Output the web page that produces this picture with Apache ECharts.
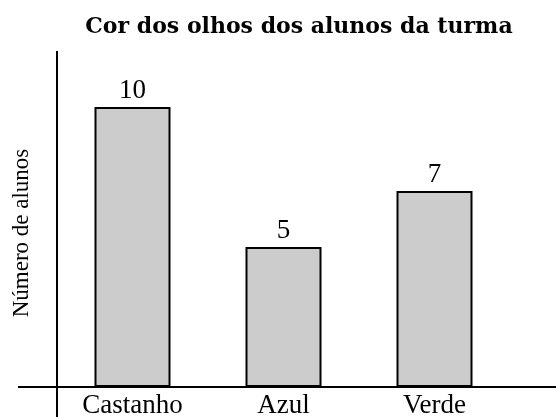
<!DOCTYPE html>
<html lang="pt">
<head>
	<meta charset="UTF-8">
	<title>Cor dos olhos</title>
	<style>
		html, body { margin: 0; padding: 0; background: #fff; }
		#chart { width: 556px; height: 417px; }
	</style>
</head>
<body>
	<div id="chart"></div>
	<script src="https://cdn.jsdelivr.net/npm/echarts@6/dist/echarts.min.js"></script>
	<script>
		var categorias = ['Castanho', 'Azul', 'Verde'];
		var alunos = [10, 5, 7];

		var fonte = 'Liberation Serif';
		var chart = echarts.init(document.getElementById('chart'));

		var option = {
			animation: false,
			title: {
				text: 'Cor dos olhos dos alunos da turma',
				left: 294,
				top: 11,
				textAlign: 'center',
				textStyle: { fontFamily: 'DejaVu Serif', fontWeight: 'bold', fontSize: 22, color: '#000' }
			},
			grid: { left: 57, right: 46, top: 51, bottom: 30, outerBoundsMode: 'none', containLabel: false },
			xAxis: {
				type: 'category',
				data: categorias,
				axisTick: { show: false },
				axisLine: { show: false },
				axisLabel: { fontFamily: fonte, fontSize: 27, color: '#000', margin: 5 }
			},
			yAxis: {
				type: 'value',
				min: 0,
				max: 12,
				name: 'Número de alunos',
				nameLocation: 'middle',
				nameGap: 24,
				nameTextStyle: { fontFamily: fonte, fontSize: 23, color: '#000', padding: [0, 28, 0, 0] },
				axisLine: { show: false },
				axisTick: { show: false },
				axisLabel: { show: false },
				splitLine: { show: false }
			},
			// eixos desenhados de ponta a ponta, como no original
			graphic: [
				{ type: 'line', shape: { x1: 18, y1: 387, x2: 556, y2: 387 }, style: { stroke: '#000', lineWidth: 2 } },
				{ type: 'line', shape: { x1: 57, y1: 51, x2: 57, y2: 417 }, style: { stroke: '#000', lineWidth: 2 } }
			],
			series: [{
				type: 'bar',
				data: alunos,
				barWidth: 76,
				itemStyle: { color: '#cccccc', borderColor: '#000', borderWidth: 2 },
				label: {
					show: true,
					position: 'top',
					distance: 3,
					fontFamily: fonte,
					fontSize: 27,
					color: '#000'
				}
			}]
		};
		chart.setOption(option);
	</script>
</body>
</html>
